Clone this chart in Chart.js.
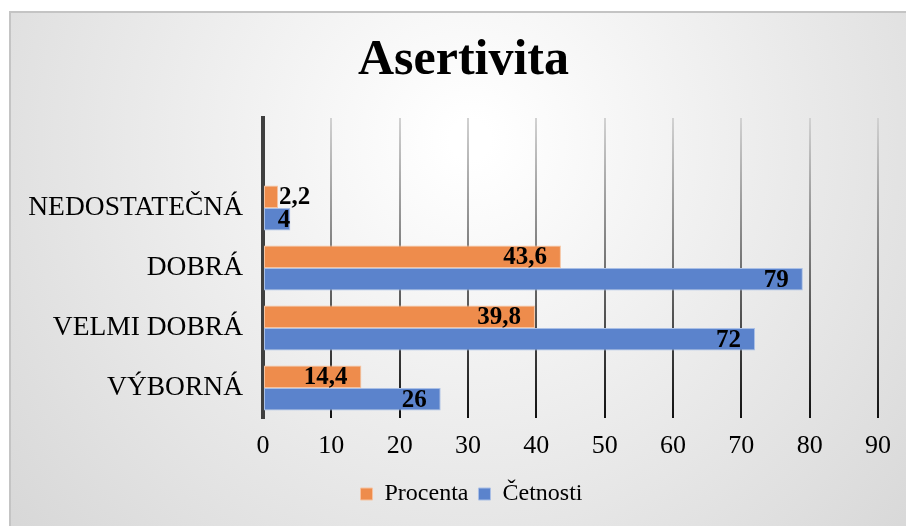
<!DOCTYPE html>
<html>
<head>
<meta charset="utf-8">
<script src="https://cdn.jsdelivr.net/npm/chart.js@4"></script>
<style>
  html, body { margin: 0; padding: 0; background: #fff; }
  #wrap { width: 906px; height: 526px; }
</style>
</head>
<body>
<div id="wrap"><canvas id="chart" width="906" height="526"></canvas></div>
<script>
// top row is empty in the original sheet
const categories = ['', 'NEDOSTATEČNÁ', 'DOBRÁ', 'VELMI DOBRÁ', 'VÝBORNÁ'];
const procenta = [null, 2.2, 43.6, 39.8, 14.4];
const cetnosti = [null, 4, 79, 72, 26];
const xTicks = [0, 10, 20, 30, 40, 50, 60, 70, 80, 90];

const serif = "'Liberation Serif', 'Times New Roman', serif";

// gray frame with soft radial background
const backgroundPlugin = {
    id: 'bg',
    beforeDraw(chart) {
        const ctx = chart.ctx;
        ctx.save();
        const g = ctx.createRadialGradient(470, 140, 20, 470, 140, 620);
        g.addColorStop(0, '#ffffff');
        g.addColorStop(1, '#d6d6d6');
        ctx.fillStyle = g;
        ctx.fillRect(9, 11, chart.width - 9, chart.height - 11);
        ctx.strokeStyle = '#c4c4c4';
        ctx.lineWidth = 2;
        ctx.beginPath();
        ctx.moveTo(10, chart.height);
        ctx.lineTo(10, 12);
        ctx.lineTo(chart.width, 12);
        ctx.stroke();
        ctx.restore();
    }
};

// title and legend sit a bit right of the canvas centre in the original
const shiftPlugin = {
    id: 'shift',
    afterLayout(chart) {
        if (chart.titleBlock) {
            chart.titleBlock.left += 40;
            chart.titleBlock.right += 0;
        }
        if (chart.legend) {
            chart.legend.left += 28;
            chart.legend.right += 28;
        }
    }
};

// value labels at the end of each bar
const labelPlugin = {
    id: 'valueLabels',
    afterDatasetsDraw(chart) {
        const ctx = chart.ctx;
        ctx.save();
        ctx.font = 'bold 25px ' + serif;
        ctx.fillStyle = '#000';
        ctx.textBaseline = 'middle';
        chart.data.datasets.forEach((ds, i) => {
            const meta = chart.getDatasetMeta(i);
            meta.data.forEach((bar, j) => {
                const v = ds.data[j];
                if (v === null) return;
                const text = String(v).replace('.', ',');
                const w = ctx.measureText(text).width;
                const len = bar.x - bar.base;
                if (w + 6 > len) {
                    ctx.textAlign = 'left';
                    ctx.fillText(text, bar.x + 1, bar.y + 1);
                } else if (w + 18 > len) {
                    ctx.textAlign = 'right';
                    ctx.fillText(text, bar.x, bar.y + 1);
                } else {
                    ctx.textAlign = 'right';
                    ctx.fillText(text, bar.x - 14, bar.y + 1);
                }
            });
        });
        ctx.restore();
    }
};

function gridGradient(context) {
    const chart = context.chart;
    const area = chart.chartArea;
    if (!area) return '#888';
    const g = chart.ctx.createLinearGradient(0, area.top, 0, area.bottom);
    g.addColorStop(0, '#d2d2d2');
    g.addColorStop(1, '#111111');
    return g;
}

new Chart(document.getElementById('chart'), {
    type: 'bar',
    data: {
        labels: categories,
        datasets: [{
            label: 'Procenta',
            data: procenta,
            backgroundColor: '#ee8c4c',
            borderColor: '#f6c3a0',
            borderWidth: 1,
            borderSkipped: false
        }, {
            label: 'Četnosti',
            data: cetnosti,
            backgroundColor: '#5b83cc',
            borderColor: '#a9bfe6',
            borderWidth: 1,
            borderSkipped: false
        }]
    },
    options: {
        indexAxis: 'y',
        responsive: false,
        animation: false,
        categoryPercentage: 0.75,
        barPercentage: 1.0,
        layout: {
            padding: { left: 9, top: 11, right: 28, bottom: 10 }
        },
        plugins: {
            title: {
                display: true,
                text: 'Asertivita',
                color: '#000',
                font: { family: serif, size: 50, weight: 'bold' },
                padding: { top: 20, bottom: 27 }
            },
            legend: {
                position: 'bottom',
                labels: {
                    color: '#000',
                    font: { family: serif, size: 24 },
                    boxWidth: 12,
                    boxHeight: 12,
                    padding: 10
                }
            },
            tooltip: { enabled: false }
        },
        scales: {
            x: {
                min: 0,
                max: 90,
                afterBuildTicks: (scale) => {
                    scale.ticks = xTicks.map(v => ({ value: v }));
                },
                afterFit: (scale) => { scale.height = 54; },
                grid: {
                    color: gridGradient,
                    lineWidth: 2,
                    drawTicks: false
                },
                border: { display: false },
                ticks: {
                    color: '#000',
                    font: { family: serif, size: 26 },
                    padding: 13
                }
            },
            y: {
                afterFit: (scale) => { scale.width = 254; },
                grid: { display: false, drawTicks: false },
                border: { display: true, color: '#3f3f3f', width: 4 },
                ticks: {
                    color: '#000',
                    font: { family: serif, size: 27.5 },
                    padding: 20
                }
            }
        }
    },
    plugins: [backgroundPlugin, shiftPlugin, labelPlugin]
});
</script>
</body>
</html>
